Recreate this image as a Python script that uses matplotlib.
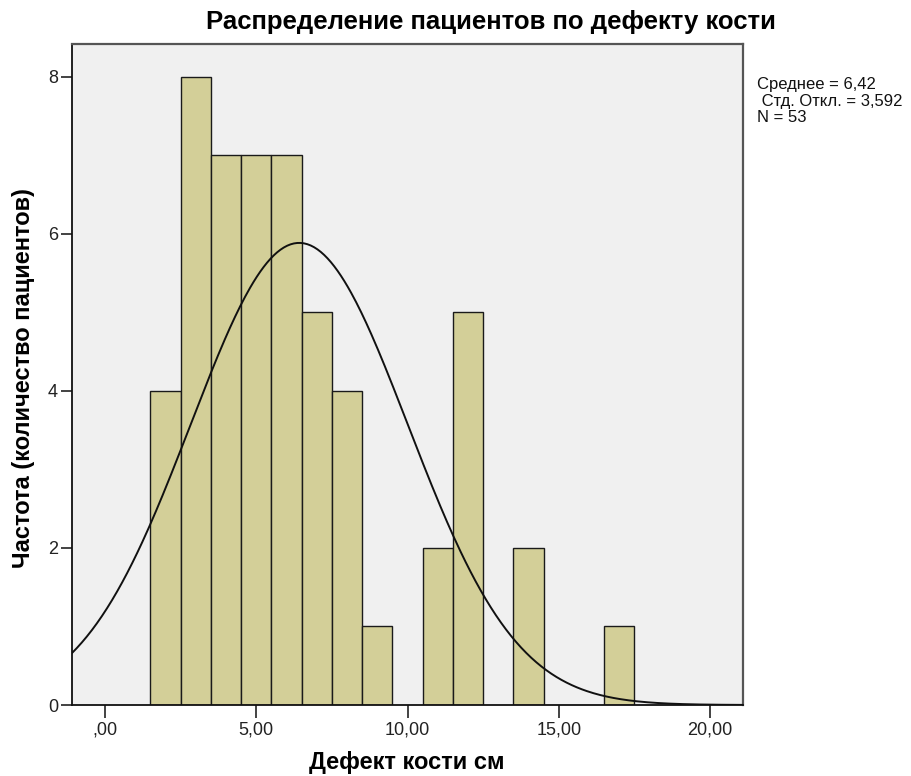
import matplotlib
matplotlib.use("Agg")
import matplotlib.pyplot as plt
from matplotlib.ticker import FuncFormatter
import numpy as np

# bone defect size (cm), one bin per whole centimetre
bin_centers = [2, 3, 4, 5, 6, 7, 8, 9, 11, 12, 14, 17]
counts = [4, 8, 7, 7, 7, 5, 4, 1, 2, 5, 2, 1]

mean = 6.42
std = 3.592
n = 53

title = "Распределение пациентов по дефекту кости"
xlabel = "Дефект кости см"
ylabel = "Частота (количество пациентов)"
stats_lines = ["Среднее = 6,42", " Стд. Откл. = 3,592", "N = 53"]

plt.rcParams['font.family'] = ['Liberation Sans', 'DejaVu Sans']

W, H = 911, 776
fig = plt.figure(figsize=(W / 100, H / 100), dpi=100)
ax = fig.add_axes([72 / W, 71 / H, 671 / W, 661 / H])
ax.set_facecolor('#f0f0f0')

ax.bar(bin_centers, counts, width=1.0, color='#d3cf98', edgecolor='#1a1a1a',
       linewidth=1.0, zorder=2)

# fitted normal curve scaled to counts (bin width = 1)
xs = np.linspace(-1.1, 21.1, 400)
ys = n / (std * np.sqrt(2 * np.pi)) * np.exp(-0.5 * ((xs - mean) / std) ** 2)
ax.plot(xs, ys, color='#111111', linewidth=1.4, zorder=3)

ax.set_xlim(-1.09, 21.09)
ax.set_ylim(0, 8.42)
ax.set_xticks([0, 5, 10, 15, 20])
ax.set_yticks([0, 2, 4, 6, 8])


def comma_fmt(v, pos):
    s = f"{v:.2f}".replace('.', ',')
    return s[1:] if s.startswith('0') else s


ax.xaxis.set_major_formatter(FuncFormatter(comma_fmt))
ax.tick_params(axis='x', direction='out', length=9, width=1.2, pad=3,
               labelsize=13, colors='#222222')
ax.tick_params(axis='y', direction='out', length=8, width=1.2, pad=2,
               labelsize=13, colors='#222222')

for side in ['left', 'bottom']:
    ax.spines[side].set_color('#111111')
    ax.spines[side].set_linewidth(1.3)
for side in ['top', 'right']:
    ax.spines[side].set_color('#555555')
    ax.spines[side].set_linewidth(1.6)

fig.text(491 / W, 1 - 22 / H, title, fontsize=18.5, fontweight='bold',
         ha='center', va='center')
fig.text(407 / W, 1 - 762 / H, xlabel, fontsize=17, fontweight='bold',
         ha='center', va='center')
ax.set_ylabel(ylabel, fontsize=17, fontweight='bold')
ax.yaxis.set_label_coords(-37 / 671, (705 - 378) / 661)

# summary statistics block to the right of the plot
for i, line in enumerate(stats_lines):
    fig.text(757 / W, 1 - (85 + 16.5 * i) / H, line, fontsize=12,
             ha='left', va='center', color='#111111')

fig.savefig('out.png', dpi=100)
